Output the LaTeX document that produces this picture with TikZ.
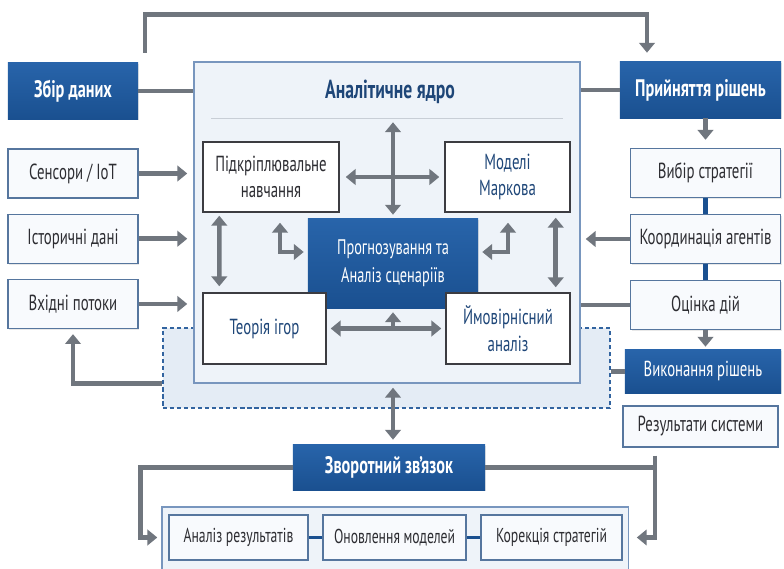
\documentclass[tikz,border=0pt]{standalone}
\usepackage{fontspec}
\setmainfont{PT Sans}[FakeStretch=0.68]
\usepackage{tikz}
\usetikzlibrary{
  arrows.meta,
  positioning,
  calc,
  shadows
}
\definecolor{CoreBlue}{RGB}{26,80,144}
\definecolor{CoreBlueTop}{RGB}{40,100,170}
\definecolor{ArrowGray}{RGB}{112,118,126}
\definecolor{BoxEdge}{RGB}{86,118,158}
\definecolor{BoxFill}{RGB}{248,250,253}
\definecolor{CoreFill}{RGB}{238,243,249}
\definecolor{CoreEdge}{RGB}{120,150,190}
\definecolor{LoopFill}{RGB}{228,236,245}
\definecolor{LoopEdge}{RGB}{50,100,160}
\definecolor{InkGray}{RGB}{45,45,50}
\definecolor{InkBlue}{RGB}{30,70,120}
\definecolor{InnerEdge}{RGB}{60,60,65}
\definecolor{RuleGray}{RGB}{200,206,214}
\tikzset{
  softshadow/.style={drop shadow={opacity=0.18,shadow xshift=0.8pt,shadow yshift=-1pt}},
  headnode/.style={top color=CoreBlueTop,bottom color=CoreBlue,text=white,align=center,inner sep=0pt,softshadow,font=\fontsize{17}{19}\selectfont\bfseries},
  whitenode/.style={top color=CoreBlueTop,bottom color=CoreBlue,text=white,align=center,inner sep=0pt,softshadow,font=\fontsize{15}{20}\selectfont},
  srcnode/.style={draw=BoxEdge,line width=1pt,fill=BoxFill,text=InkGray,minimum width=3.25cm,minimum height=1.225cm,align=center,inner sep=0pt,softshadow,font=\fontsize{15.5}{17}\selectfont},
  stepnode/.style={srcnode,minimum width=3.75cm},
  rownode/.style={srcnode,minimum height=1.125cm,font=\fontsize{14.3}{16}\selectfont},
  innernode/.style={draw=InnerEdge,line width=1pt,fill=white,text=InkBlue,align=center,inner sep=0pt,softshadow,font=\fontsize{15.5}{19}\selectfont},
  corebox/.style={draw=CoreEdge,line width=1pt,fill=CoreFill,minimum width=9.65cm,minimum height=8.025cm,inner sep=0pt},
  loopzone/.style={draw=LoopEdge,dashed,dash pattern=on 3pt off 2pt,line width=1.2pt,fill=LoopFill,minimum width=11.175cm,minimum height=2cm,inner sep=0pt},
  trayzone/.style={draw=CoreEdge,line width=0.8pt,fill=CoreFill,minimum width=11.65cm,minimum height=1.7cm,inner sep=0pt},
  flow/.style={-{Triangle[length=7pt,width=11pt]},line width=3.2pt,draw=ArrowGray},
  dflow/.style={{Triangle[length=7pt,width=11pt]}-{Triangle[length=7pt,width=11pt]},line width=3.2pt,draw=ArrowGray},
  plainline/.style={line width=3.2pt,draw=ArrowGray},
  bluelink/.style={line width=3.5pt,draw=CoreBlue},
  thinlink/.style={line width=2pt,draw=CoreBlue}
}

\begin{document}
\begin{tikzpicture}[x=0.025cm,y=-0.025cm]
\useasboundingbox[fill=white] (0,0) rectangle (784,569);

% analytic core
\node[loopzone] (loop) at (386.5,368) {};
\node[corebox] (core) at (387,222.5) {};
\node[text=InkBlue,font=\fontsize{18.5}{20}\selectfont\bfseries] (coretitle) at (390,92) {Аналітичне ядро};
\coordinate (sepL) at ($(core.north west)+(18,57)$);
\coordinate (sepR) at ($(core.north east)+(-18,57)$);
\draw[RuleGray,line width=0.8pt] (sepL) -- (sepR);

\node[innernode,minimum width=3.4cm,minimum height=1.75cm,text=InkGray] (reinf) at (271,177) {Підкріплювальне\\навчання};
\node[innernode,minimum width=3.125cm,minimum height=1.75cm] (markov) at (507.5,177) {Моделі\\Маркова};
\node[whitenode,minimum width=4.25cm,minimum height=2.225cm] (forecast) at (393,263.5) {Прогнозування та\\Аналіз сценаріїв};
\node[innernode,minimum width=3.075cm,minimum height=1.775cm] (games) at (264.5,328.5) {Теорія ігор};
\node[innernode,minimum width=3.1cm,minimum height=1.775cm] (prob) at (508,328.5) {Ймовірнісний\\аналіз};

% data in
\node[headnode,minimum width=3.25cm,minimum height=1.4cm] (zbir) at (73,91) {Збір даних};
\node[srcnode] (sensors) at (73,173.5) {Сенсори / IoT};
\node[srcnode,below=0.37cm of sensors] (history) {Історичні дані};
\node[srcnode,below=0.37cm of history] (streams) {Вхідні потоки};

% decisions out
\node[headnode,minimum width=4.025cm,minimum height=1.4cm] (decide) at (700.5,90) {Прийняття рішень};
\node[stepnode] (choice) at (705.5,173) {Вибір стратегії};
\node[stepnode,below=0.39cm of choice] (coord) {Координація агентів};
\node[stepnode,below=0.39cm of coord] (assess) {Оцінка дій};
\node[whitenode,minimum width=3.9cm,minimum height=1.075cm,font=\fontsize{15.4}{17}\selectfont] (execute) at (703,371.5) {Виконання рішень};
\node[srcnode,minimum width=3.875cm,minimum height=1.025cm] (results) at (700.5,426.5) {Результати системи};

% feedback
\node[headnode,minimum width=4.8cm,minimum height=1.125cm] (feedback) at (389,467.5) {Зворотний зв’язок};
\node[trayzone] (tray) at (395,541) {};
\node[rownode,minimum width=3.475cm] (analysis) at (238.5,537.5) {Аналіз результатів};
\node[rownode,minimum width=3.575cm,right=0.34cm of analysis] (update) {Оновлення моделей};
\node[rownode,minimum width=3.525cm,right=0.34cm of update] (correct) {Корекція стратегій};

% connectors
\foreach \src in {sensors,history,streams}
  \draw[flow,shorten >=1.5mm] (\src.east) -- (\src.east -| core.west);
\draw[plainline] (zbir.east) -- (zbir.east -| core.west);
\draw[plainline] (core.east |- decide.west) -- (decide.west);
\coordinate (loopL) at ($(zbir.north)+(72,-10)$);
\coordinate (loopR) at ($(decide.north)+(-53.5,-9)$);
\draw[flow] (loopL) -- ++(0,-38) -| (loopR);

\draw[flow,shorten >=2mm] (decide.south -| choice.north) -- (choice.north);
\draw[bluelink] (choice.south) -- (coord.north);
\draw[bluelink] (coord.south) -- (assess.north);
\draw[flow,shorten >=1.25mm] (coord.west) -- (coord.west -| core.east);
\draw[plainline] (assess.west) -- (assess.west -| core.east);
\draw[flow,shorten >=0.75mm] (assess.south) -- (assess.south |- execute.north);
\draw[plainline] (execute.west) -- (execute.west -| loop.east);

\draw[flow,shorten >=1.25mm] (loop.west |- core.south) -| (streams.south);
\draw[dflow,shorten <=1mm,shorten >=1.25mm] (forecast.south |- core.south) -- (forecast.south |- feedback.north);

\coordinate (fbLeft) at ($(analysis.west)+(-28,0)$);
\draw[flow,shorten >=2.75mm] (feedback.west) -| (fbLeft) -- (analysis.west);
\coordinate (fbRight) at ($(results.south)+(-45.5,8)$);
\draw[flow,shorten >=3.5mm] (fbRight) |- (correct.east);
\draw[plainline] (feedback.east) -- (feedback.east -| fbRight);
\draw[thinlink] (analysis.east) -- (update.west);
\draw[thinlink] (update.east) -- (correct.west);

% inside the core
\draw[dflow,shorten <=1.5mm,shorten >=1.25mm] (reinf.east) -- (markov.west);
\draw[dflow,shorten <=1mm,shorten >=1mm] (forecast.north |- sepL) -- (forecast.north);
\draw[dflow] ($(reinf.south west)+(17,3)$) -- ($(games.north west)+(17,-6)$);
\draw[dflow] ($(markov.south east)+(-15,5)$) -- ($(prob.north east)+(-15,-5)$);
\draw[dflow] ($(reinf.south)+(9,10)$) |- ($(forecast.west)+(-4,-11.5)$);
\draw[dflow] ($(forecast.east)+(4,-11.5)$) -| ($(markov.south)+(0.5,10)$);
\draw[dflow,shorten <=1mm,shorten >=1mm] (games.east) -- (prob.west);
\draw[flow,shorten >=1mm] (forecast.south |- games.east) -- (forecast.south);
\end{tikzpicture}
\end{document}
